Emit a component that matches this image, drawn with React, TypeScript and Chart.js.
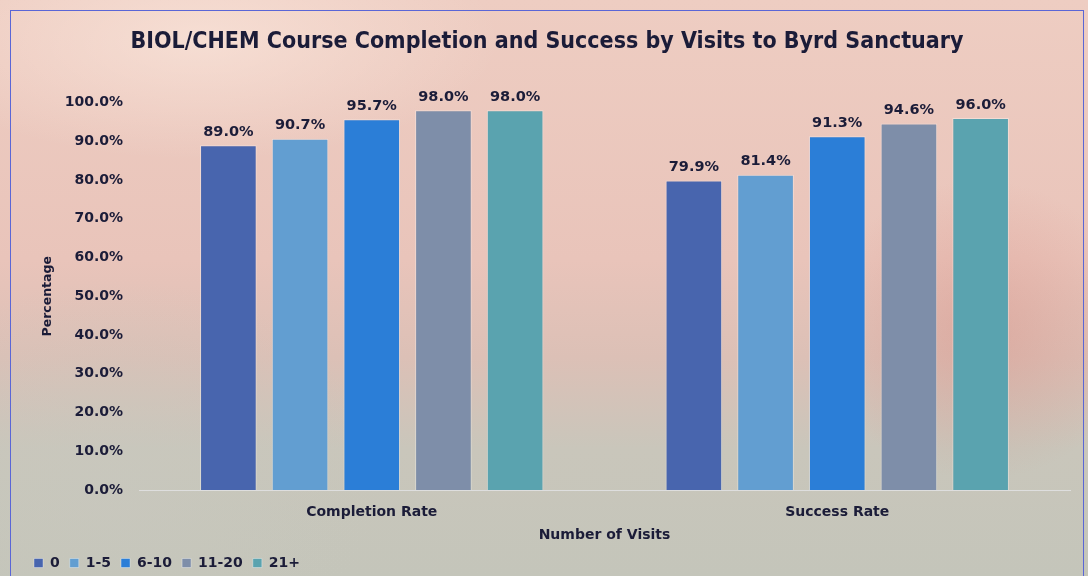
import React, { useEffect, useRef } from "react";
import { Chart, registerables } from "chart.js";

Chart.register(...registerables);

const categories = ["Completion Rate", "Success Rate"];
const seriesLabels = ["0", "1-5", "6-10", "11-20", "21+"];
const visits0 = [89.0, 79.9];
const visits1to5 = [90.7, 81.4];
const visits6to10 = [95.7, 91.3];
const visits11to20 = [98.0, 94.6];
const visits21plus = [98.0, 96.0];
const seriesColors = ["#4865ae", "#629ed1", "#2b7ed7", "#7e8ea9", "#5aa3af"];
const yTicks = [0, 10, 20, 30, 40, 50, 60, 70, 80, 90, 100];

const TEXT = "#1b1c38";
const FONT = "'DejaVu Sans', sans-serif";

const valueLabels = {
  id: "valueLabels",
  afterDatasetsDraw(chart: any) {
    const ctx = chart.ctx;
    ctx.save();
    ctx.fillStyle = TEXT;
    ctx.font = `bold 14.5px ${FONT}`;
    ctx.textAlign = "center";
    ctx.textBaseline = "bottom";
    chart.data.datasets.forEach((ds: any, i: number) => {
      const meta = chart.getDatasetMeta(i);
      meta.data.forEach((bar: any, j: number) => {
        ctx.fillText(ds.data[j].toFixed(1) + "%", bar.x, bar.y - 6);
      });
    });
    ctx.restore();
  },
};

export default function App() {
  const ref = useRef<HTMLCanvasElement>(null);
  useEffect(() => {
    const seriesData = [visits0, visits1to5, visits6to10, visits11to20, visits21plus];
    const chart = new Chart(ref.current!, {
      type: "bar",
      data: {
        labels: categories,
        datasets: seriesLabels.map((label, i) => ({
          label,
          data: seriesData[i],
          backgroundColor: seriesColors[i],
          borderColor: "rgba(255,255,255,0.35)",
          borderWidth: 1,
          categoryPercentage: 0.77,
          barPercentage: 0.79,
        })),
      },
      options: {
        animation: false,
        responsive: false,
        layout: { padding: { left: 24, right: 18, top: 24, bottom: -4 } },
        plugins: {
          title: {
            display: true,
            text: "BIOL/CHEM Course Completion and Success by Visits to Byrd Sanctuary",
            color: TEXT,
            font: { family: "'DejaVu Sans Condensed', 'DejaVu Sans', sans-serif", size: 23, weight: "bold" },
            padding: { top: 4, bottom: 47 },
          },
          legend: {
            position: "bottom",
            align: "start",
            labels: {
              color: TEXT,
              font: { family: FONT, size: 14, weight: "bold" },
              boxWidth: 9,
              boxHeight: 9,
              padding: 10,
            },
          },
          tooltip: { enabled: false },
        },
        scales: {
          x: {
            grid: { display: false, drawTicks: false },
            border: { display: true, color: "#dedede", width: 1 },
            ticks: { color: TEXT, font: { family: FONT, size: 14, weight: "bold" }, padding: 14 },
            title: {
              display: true,
              text: "Number of Visits",
              color: TEXT,
              font: { family: FONT, size: 14, weight: "bold" },
              padding: { top: 4, bottom: 2 },
            },
            afterFit: (axis: any) => {
              axis.height = 56;
            },
          },
          y: {
            min: 0,
            max: 100,
            afterBuildTicks: (axis: any) => {
              axis.ticks = yTicks.map((v) => ({ value: v }));
            },
            grid: { display: false, drawTicks: false },
            border: { display: false },
            ticks: {
              color: TEXT,
              font: { family: FONT, size: 14, weight: "bold" },
              padding: 16,
              callback: (v: any) => Number(v).toFixed(1) + "%",
            },
            title: {
              display: true,
              text: "Percentage",
              color: TEXT,
              font: { family: FONT, size: 12.5, weight: "bold" },
              padding: { top: 16, bottom: 4 },
            },
            afterFit: (axis: any) => {
              axis.width = 115;
            },
          },
        },
      },
      plugins: [valueLabels],
    });
    return () => chart.destroy();
  }, []);

  return (
    <div
      style={{
        position: "fixed",
        left: 0,
        top: 0,
        width: 1088,
        height: 576,
        overflow: "hidden",
        background:
          "radial-gradient(ellipse 160px 150px at 980px 330px, rgba(214,130,120,0.35), rgba(214,130,120,0) 100%)," +
          "radial-gradient(ellipse 300px 120px at 200px 40px, rgba(255,240,230,0.5), rgba(255,240,230,0) 100%)," +
          "radial-gradient(ellipse 260px 200px at 120px 480px, rgba(200,200,190,0.6), rgba(200,200,190,0) 100%)," +
          "linear-gradient(180deg, #eecdc2 0%, #e9c4ba 45%, #dcc0b6 62%, #c9c6bb 78%, #c4c5ba 100%)",
      }}
    >
      <div
        style={{
          position: "absolute",
          left: 10,
          top: 10,
          width: 1074,
          height: 600,
          border: "1px solid #5a66d6",
          boxSizing: "border-box",
        }}
      />
      <canvas ref={ref} width={1088} height={576} style={{ position: "absolute", left: 0, top: 0 }} />
    </div>
  );
}
